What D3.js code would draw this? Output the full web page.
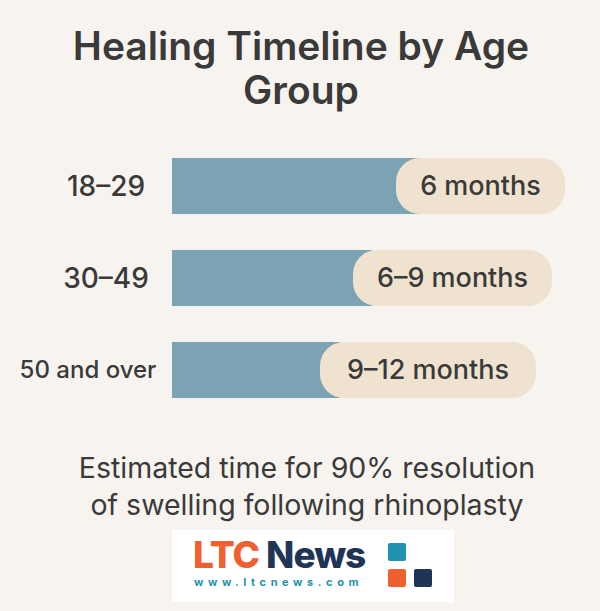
<!DOCTYPE html>
<html><head><meta charset="utf-8">
<script src="https://cdn.jsdelivr.net/npm/d3@7"></script>
<style>body{margin:0;background:#f7f4ef}</style></head>
<body><svg id="c" width="600" height="611"></svg>
<script>
const groups = ["18–29", "30–49", "50 and over"];
const barEnds = [420, 372, 340];      // blue bar length (chart units)
const pillStarts = [396, 353, 320];
const pillEnds = [565, 552, 536];
const labels = ["6 months", "6–9 months", "9–12 months"];

const svg = d3.select("#c");
svg.append("rect").attr("width", 600).attr("height", 611).attr("fill", "#f7f4ef");
const font = "Inter, 'Open Sans', sans-serif";

svg.selectAll("text.title").data(["Healing Timeline by Age", "Group"]).join("text")
  .attr("x", 301).attr("y", (d, i) => 60 + i * 44).attr("text-anchor", "middle")
  .attr("font-family", font).attr("font-weight", 600).attr("font-size", 39).attr("fill", "#3a3a3a").text(d => d);

const x = d3.scaleLinear().domain([0, 600]).range([0, 600]);
const y = d3.scaleBand().domain(groups).range([158, 398]).paddingInner(36 / 92).paddingOuter(0);

const row = svg.selectAll("g.row").data(groups).join("g").attr("transform", d => `translate(0,${y(d)})`);
row.append("rect").attr("x", x(172)).attr("width", (d, i) => x(barEnds[i]) - x(172))
  .attr("height", y.bandwidth()).attr("fill", "#7ba3b4");
row.append("rect").attr("x", (d, i) => x(pillStarts[i])).attr("width", (d, i) => x(pillEnds[i]) - x(pillStarts[i]))
  .attr("height", y.bandwidth()).attr("rx", 24).attr("fill", "#efe3cf");
row.append("text").attr("x", (d, i) => (x(pillStarts[i]) + x(pillEnds[i])) / 2).attr("y", y.bandwidth() / 2)
  .attr("dy", "0.35em").attr("text-anchor", "middle").attr("font-family", font).attr("font-size", 27)
  .attr("font-weight", 500).attr("fill", "#3a3a3a").text((d, i) => labels[i]);
row.append("text").attr("x", d => d === "50 and over" ? 88 : 106).attr("y", y.bandwidth() / 2)
  .attr("dy", "0.35em").attr("text-anchor", "middle").attr("font-family", font).attr("font-weight", 500)
  .attr("font-size", d => d === "50 and over" ? 24 : 28).attr("fill", "#3a3a3a").text(d => d);

svg.selectAll("text.note").data(["Estimated time for 90% resolution", "of swelling following rhinoplasty"]).join("text")
  .attr("x", 307).attr("y", (d, i) => 478 + i * 37).attr("text-anchor", "middle")
  .attr("font-family", font).attr("font-size", 28.5).attr("fill", "#3a3a3a").text(d => d);

const logo = svg.append("g");
logo.append("rect").attr("x", 172).attr("y", 530).attr("width", 282).attr("height", 72).attr("fill", "#fff");
const t = logo.append("text").attr("x", 193).attr("y", 568).attr("font-family", "Inter, sans-serif")
  .attr("font-weight", 800).attr("font-size", 37).attr("letter-spacing", -1);
t.append("tspan").attr("fill", "#f0602f").text("LTC ");
t.append("tspan").attr("fill", "#1f3557").text("News");
logo.append("text").attr("x", 194).attr("y", 586).attr("font-family", "Inter, sans-serif").attr("font-weight", 700)
  .attr("font-size", 11).attr("letter-spacing", 4.6).attr("fill", "#1e93b0").text("www.ltcnews.com");
logo.append("rect").attr("x", 388).attr("y", 543).attr("width", 18).attr("height", 18).attr("rx", 2).attr("fill", "#1e93b0");
logo.append("rect").attr("x", 388).attr("y", 569).attr("width", 18).attr("height", 18).attr("rx", 2).attr("fill", "#f0602f");
logo.append("rect").attr("x", 414).attr("y", 569).attr("width", 18).attr("height", 18).attr("rx", 2).attr("fill", "#1f3557");
</script></body></html>
